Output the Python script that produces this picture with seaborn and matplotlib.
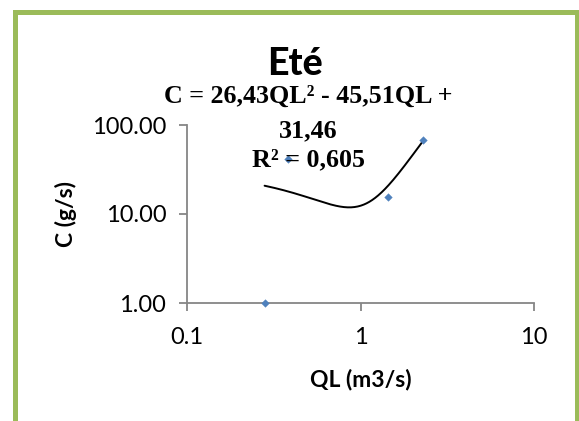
import numpy as np
import pandas as pd
import matplotlib
matplotlib.use("Agg")
import matplotlib.pyplot as plt
import matplotlib.ticker as mticker
from matplotlib.patches import Rectangle
import seaborn as sns

# Summer measurements: discharge QL (m3/s) vs load C (g/s)
ql_values = [0.28, 0.384, 1.435, 2.28]
c_values = [1.0, 41.0, 15.5, 68.0]

# Polynomial trendline coefficients (C = a*QL^2 + b*QL + c) and its R²
trend_coeffs = [26.43, -45.51, 31.46]
r_squared = "0,605"

title_text = "Eté"
x_label = "QL (m3/s)"
y_label = "C (g/s)"
x_ticks = [0.1, 1, 10]
x_tick_labels = ["0.1", "1", "10"]
y_ticks = [1, 10, 100]
y_tick_labels = ["1.00", "10.00", "100.00"]

W, H = 579, 421
sns.set_theme(style="white")
plt.rcParams["font.family"] = ["Lato", "DejaVu Sans"]

fig = plt.figure(figsize=(W / 100, H / 100), dpi=100)
fig.patch.set_facecolor("white")

def fx(px):
    return px / W

def fy(py):
    return 1 - py / H

ax = fig.add_axes([fx(187), fy(303), fx(534) - fx(187), fy(125) - fy(303)])
ax.set_facecolor("white")

df = pd.DataFrame({"QL": ql_values, "C": c_values})
q = np.linspace(min(ql_values), max(ql_values), 200)
trend = pd.DataFrame({"QL": q, "C": np.polyval(trend_coeffs, q)})

sns.lineplot(data=trend, x="QL", y="C", ax=ax, color="black", linewidth=1.4)
sns.scatterplot(data=df, x="QL", y="C", ax=ax, marker="D", s=15,
                color="#4F81BD", edgecolor="#4F81BD", linewidth=0.3, zorder=5,
                clip_on=False)

ax.set_xscale("log")
ax.set_yscale("log")
ax.set_xlim(0.1, 10)
ax.set_ylim(1, 100)
ax.xaxis.set_major_locator(mticker.FixedLocator(x_ticks))
ax.xaxis.set_major_formatter(mticker.FixedFormatter(x_tick_labels))
ax.yaxis.set_major_locator(mticker.FixedLocator(y_ticks))
ax.yaxis.set_major_formatter(mticker.FixedFormatter(y_tick_labels))
ax.xaxis.set_minor_locator(mticker.NullLocator())
ax.yaxis.set_minor_locator(mticker.NullLocator())

axis_grey = "#868686"
for side in ["top", "right"]:
    ax.spines[side].set_visible(False)
for side in ["left", "bottom"]:
    ax.spines[side].set_color(axis_grey)
    ax.spines[side].set_linewidth(1.3)
ax.tick_params(axis="both", which="major", direction="out", length=6,
               width=1.3, color=axis_grey, labelsize=17, labelcolor="black",
               left=True, bottom=True)
ax.tick_params(axis="y", pad=9)
ax.tick_params(axis="x", pad=11)
ax.grid(False)

ax.set_xlabel("")
ax.set_ylabel("")
fig.text(fx(361), fy(386), x_label, ha="center", va="baseline",
         fontsize=16.5, fontweight="bold", color="black")
fig.text(fx(66), fy(214), y_label, ha="center", va="center", rotation=90,
         fontsize=16.5, fontweight="bold", color="black")

# Chart title and trendline equation
fig.text(fx(295), fy(75), title_text, ha="center", va="baseline",
         fontsize=27, fontweight="black", color="black")
a, b, c = trend_coeffs
fmt = lambda v: f"{abs(v):.2f}".replace(".", ",")
eq_lines = [
    f"C = {fmt(a)}QL² - {fmt(b)}QL +",
    f"{fmt(c)}",
    f"R² = {r_squared}",
]
eq_baselines = [103, 137, 166]
for line, base in zip(eq_lines, eq_baselines):
    fig.text(fx(308), fy(base), line, ha="center", va="baseline",
             fontsize=18.7, fontweight="bold", color="black",
             family=["Liberation Serif", "DejaVu Serif"], zorder=10)

# Green chart frame (bottom edge runs past the canvas)
frame = Rectangle((fx(14.5), fy(440)), fx(576.5) - fx(14.5), fy(12) - fy(440),
                  transform=fig.transFigure, fill=False, edgecolor="#9BBB59",
                  linewidth=3.6, zorder=20)
fig.patches.append(frame)

fig.savefig("out.png", dpi=100, facecolor="white")
